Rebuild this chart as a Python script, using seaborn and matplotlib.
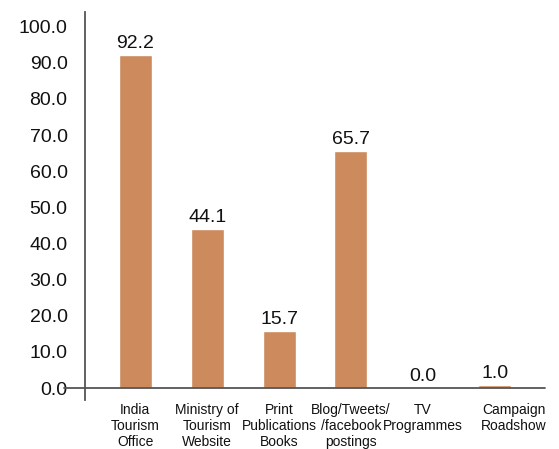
import matplotlib
matplotlib.use("Agg")
import matplotlib.pyplot as plt
import matplotlib.transforms as mtransforms
import seaborn as sns
import pandas as pd

categories = ["India\nTourism\nOffice", "Ministry of\nTourism\nWebsite", "Print\nPublications\nBooks",
              "Blog/Tweets/\n/facebook\npostings", "TV\nProgrammes", "Campaign\nRoadshow"]
values = [92.2, 44.1, 15.7, 65.7, 0.0, 1.0]
yticks = [0, 10, 20, 30, 40, 50, 60, 70, 80, 90, 100]

sns.set_theme(style="white")
plt.rcParams['font.family'] = ['Liberation Sans', 'DejaVu Sans']

df = pd.DataFrame({"cat": categories, "val": values})

fig = plt.figure(figsize=(5.59, 4.49), dpi=100)
ax = fig.add_axes([0.152, 0.109, 0.823, 0.864])
sns.barplot(data=df, x="cat", y="val", order=categories, color="#CD8A5C",
            saturation=1, width=0.46, ax=ax)

ax.set_xlim(-0.7, 5.7)
ax.set_ylim(-3.3, 104)
ax.set_yticks(yticks)
ax.set_yticklabels([f"{t:.1f}" for t in yticks], fontsize=14, color="#111111")
ax.tick_params(axis="y", length=0, pad=12.5)
ax.tick_params(axis="x", length=0, pad=2)
for lbl in ax.get_xticklabels():
    lbl.set_fontsize(10)
    lbl.set_color("#111111")
    lbl.set_linespacing(1.2)
last = ax.get_xticklabels()[-1]
last.set_transform(last.get_transform() + mtransforms.ScaledTranslation(0.19, 0, fig.dpi_scale_trans))
ax.set_xlabel("")
ax.set_ylabel("")

for s in ["top", "right", "bottom"]:
    ax.spines[s].set_visible(False)
ax.spines["left"].set_color("#555555")
ax.spines["left"].set_linewidth(1.3)

ax.axhline(0, xmin=-0.045, xmax=1.0, color="#555555", lw=1.3, clip_on=False)

for i, v in enumerate(values):
    ax.text(i, v + 0.8, f"{v:.1f}", ha="center", va="bottom", fontsize=14, color="#111111")

fig.savefig("out.png", dpi=100)
